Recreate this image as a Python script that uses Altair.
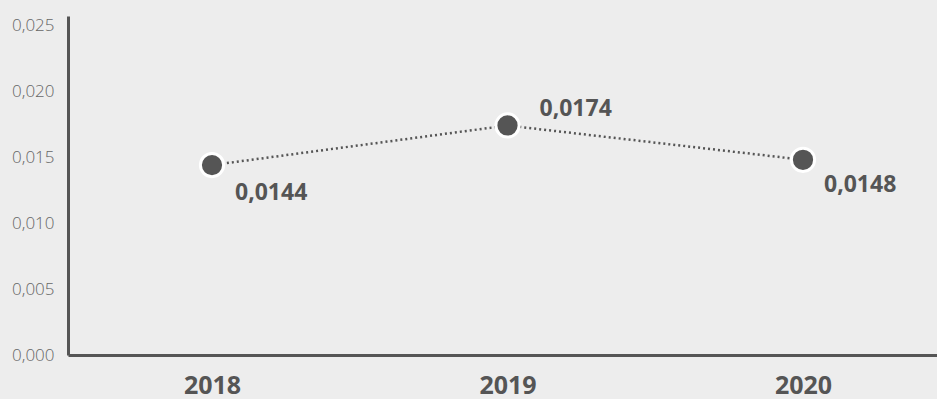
import altair as alt
import pandas as pd

years = ["2018", "2019", "2020"]
values = [0.0144, 0.0174, 0.0148]
y_ticks = [0.0, 0.005, 0.010, 0.015, 0.020, 0.025]

df = pd.DataFrame({"year": years, "value": values})

FONT = "Open Sans"
DARK = "#555555"

x_enc = alt.X("year:N", sort=years,
              scale=alt.Scale(type="point", padding=0.4704, align=0.518),
              axis=alt.Axis(title=None, labelAngle=0, labelFont=FONT, labelFontSize=25,
                            labelFontWeight="bold", labelColor=DARK, labelPadding=18,
                            ticks=False, domainColor=DARK, domainWidth=3, grid=False))
y_enc = alt.Y("value:Q", scale=alt.Scale(domain=[0, 0.0257], nice=False, zero=True),
              axis=alt.Axis(title=None, values=y_ticks, ticks=False, grid=False,
                            labelExpr="replace(format(datum.value, '.3f'), '.', ',')",
                            labelFont=FONT, labelFontSize=17, labelColor="#666666",
                            labelFontWeight=300,
                            labelPadding=14, domainColor=DARK, domainWidth=3))

base = alt.Chart(df).encode(x=x_enc, y=y_enc)

line = base.mark_line(color=DARK, strokeWidth=2.5, strokeDash=[2, 3])
points = base.mark_point(filled=True, size=540, color=DARK, stroke="white",
                         strokeWidth=3, opacity=1, fillOpacity=1)

label_text = "replace(format(datum.value, '.4f'), '.', ',')"

def lab(year, dx, dy):
    return base.transform_filter(alt.datum.year == year).transform_calculate(
        lbl=label_text
    ).mark_text(font=FONT, fontSize=23, fontWeight="bold", color=DARK,
                align="left", baseline="middle", dx=dx, dy=dy).encode(text="lbl:N")

chart = alt.layer(line, points, lab("2018", 23, 28), lab("2019", 32, -16),
                  lab("2020", 21, 25)).properties(
    width=869, height=339,
    background="#ededed",
    padding={"left": 68, "top": 16, "right": 0, "bottom": 44},
    autosize=alt.AutoSizeParams(type="none"),
).configure_view(stroke=None)

chart.save("out.html", embed_options={"renderer": "svg", "actions": False})
